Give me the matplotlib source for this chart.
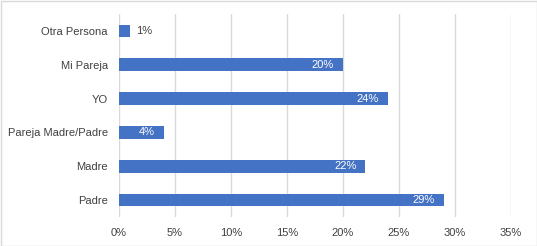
import matplotlib
matplotlib.use("Agg")
import matplotlib.pyplot as plt
from matplotlib.patches import Rectangle
from matplotlib.ticker import FuncFormatter

categories = ["Padre", "Madre", "Pareja Madre/Padre", "YO", "Mi Pareja", "Otra Persona"]
values = [29, 22, 4, 24, 20, 1]
xticks = [0, 5, 10, 15, 20, 25, 30, 35]

plt.rcParams['font.family'] = ['Liberation Sans', 'DejaVu Sans']
fig = plt.figure(figsize=(5.37, 2.46), dpi=100)
ax = fig.add_axes([119/537, 1-217/246, (511-119)/537, (217-14)/246])

bar_color = "#4472C4"
text_color = "#404040"
ypos = list(range(len(categories)))
ax.barh(ypos, values, height=0.37, color=bar_color, zorder=3)
ax.set_xlim(0, 35)
ax.set_ylim(-0.5, len(categories)-0.5)
ax.set_xticks(xticks)
ax.xaxis.set_major_formatter(FuncFormatter(lambda v, p: f"{int(v)}%"))
ax.set_yticks(ypos)
ax.set_yticklabels(categories)
ax.tick_params(axis='both', length=0, labelsize=8, colors=text_color)
ax.tick_params(axis='y', pad=8)
ax.tick_params(axis='x', pad=8)
ax.grid(axis='x', color="#d9d9d9", linewidth=1, zorder=0)
for s in ax.spines.values():
    s.set_visible(False)

for y, v in zip(ypos, values):
    if v >= 3:
        ax.annotate(f"{v}%", (v, y), xytext=(-6.5, 0), textcoords="offset points",
                    ha='right', va='center', color='white', fontsize=8, zorder=4)
    else:
        ax.annotate(f"{v}%", (v, y), xytext=(4.5, 0), textcoords="offset points",
                    ha='left', va='center', color=text_color, fontsize=8, zorder=4)

fig.patches.append(Rectangle((0.5/537, 0.5/246), 1-1/537, 1-1/246, transform=fig.transFigure,
                             fill=False, edgecolor="#d9d9d9", linewidth=1))
fig.savefig("out.png", dpi=100)
